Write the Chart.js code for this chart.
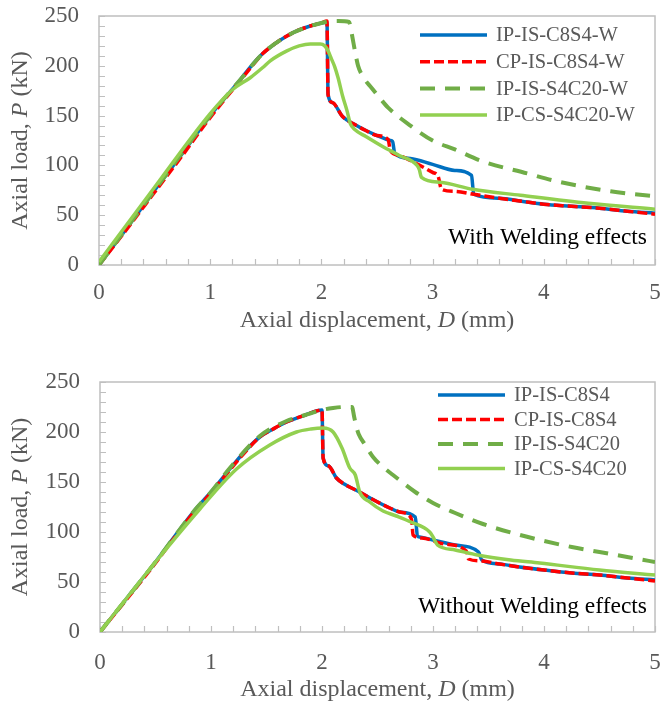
<!DOCTYPE html>
<html>
<head>
<meta charset="utf-8">
<script src="https://cdn.jsdelivr.net/npm/chart.js@4.4.1/dist/chart.umd.min.js"></script>
<style>
html, body { margin: 0; padding: 0; background: #fff; overflow: hidden; }
.box { position: relative; width: 661px; }
#top-box { height: 345px; }
#bottom-box { height: 362px; }
canvas { display: block; }
</style>
</head>
<body>
<div class="box" id="top-box"><canvas id="chart-top"></canvas></div>
<div class="box" id="bottom-box"><canvas id="chart-bottom"></canvas></div>
<script>
// --- data: displacement D (mm) and load P (kN) ---

// With welding effects
let topBlueX = [0, 0.25, 0.5, 0.75, 1.0, 1.15, 1.27, 1.37, 1.47, 1.58, 1.69, 1.8, 1.9, 2.0, 2.05, 2.06, 2.1, 2.19, 2.3, 2.4, 2.5, 2.62, 2.64, 2.66, 2.8, 3.0, 3.2, 3.35, 3.37, 3.6, 3.8, 4.0, 4.25, 4.5, 4.75, 5.0];
let topBlueY = [0, 37, 75, 112, 150, 170, 186, 200, 212, 222, 230, 236, 240, 243, 244, 171, 163, 149, 141, 135, 130, 125, 124, 112, 107, 101, 95, 90, 71, 67, 64, 61, 59, 57, 54, 52];

let topRedX = [0, 0.25, 0.5, 0.75, 1.0, 1.15, 1.27, 1.37, 1.47, 1.58, 1.69, 1.8, 1.9, 2.0, 2.05, 2.06, 2.1, 2.19, 2.3, 2.4, 2.5, 2.6, 2.62, 2.7, 2.85, 3.0, 3.05, 3.08, 3.2, 3.37, 3.6, 3.8, 4.0, 4.25, 4.5, 4.75, 5.0];
let topRedY = [0, 36, 73, 110, 148, 169, 185, 199, 212, 222, 230, 236, 240, 243, 245, 171, 163, 149, 141, 135, 130, 126, 115, 110, 102, 93, 89, 76, 74, 71, 67, 64, 61, 59, 57, 54, 51];

let topGreenX = [0, 0.5, 1.0, 1.27, 1.47, 1.69, 1.85, 2.0, 2.1, 2.15, 2.25, 2.26, 2.28, 2.31, 2.33, 2.38, 2.45, 2.53, 2.6, 2.8, 3.0, 3.2, 3.45, 3.85, 4.12, 4.6, 5.0];
let topGreenY = [0, 75, 150, 186, 212, 230, 238, 243, 245, 245, 244, 240, 228, 210, 200, 188, 178, 167, 158, 140, 125, 116, 104, 92, 84, 74, 69];

let topLimeX = [0, 0.5, 1.0, 1.2, 1.36, 1.47, 1.54, 1.69, 1.8, 1.9, 1.99, 2.03, 2.06, 2.09, 2.12, 2.15, 2.19, 2.23, 2.26, 2.3, 2.4, 2.55, 2.7, 2.86, 2.88, 2.9, 3.07, 3.36, 3.79, 4.4, 5.0];
let topLimeY = [3, 78, 152, 176, 188, 198, 205, 215, 220, 222, 222, 220, 215, 207, 199, 188, 170, 155, 142, 136, 129, 119, 110, 100, 96, 88, 83, 76, 70, 62, 56];

// Without welding effects
let botBlueX = [0, 0.25, 0.5, 0.84, 1.0, 1.17, 1.3, 1.44, 1.56, 1.68, 1.85, 2.0, 2.01, 2.06, 2.13, 2.2, 2.34, 2.45, 2.61, 2.7, 2.84, 2.86, 2.88, 3.0, 3.2, 3.41, 3.44, 3.6, 3.78, 4.0, 4.25, 4.5, 4.75, 5.0];
let botBlueY = [0, 35, 70, 120, 140, 163, 180, 195, 203, 210, 217, 222, 174, 166, 154, 148, 140, 133, 124, 120, 115, 96, 95, 92, 87, 80, 72, 68, 65, 62, 59, 57, 54, 52];

let botRedX = [0, 0.25, 0.5, 0.84, 1.0, 1.17, 1.3, 1.44, 1.56, 1.68, 1.85, 2.0, 2.01, 2.06, 2.13, 2.2, 2.34, 2.45, 2.61, 2.7, 2.79, 2.81, 2.82, 2.9, 3.1, 3.3, 3.32, 3.44, 3.6, 3.78, 4.0, 4.25, 4.5, 4.75, 5.0];
let botRedY = [0, 34, 69, 119, 139, 162, 179, 195, 203, 210, 217, 222, 174, 166, 154, 148, 140, 133, 124, 120, 116, 110, 97, 94, 88, 81, 73, 71, 68, 65, 62, 59, 57, 54, 51];

let botGreenX = [0, 0.5, 0.84, 1.0, 1.17, 1.44, 1.68, 1.85, 2.0, 2.1, 2.2, 2.27, 2.29, 2.31, 2.33, 2.39, 2.46, 2.55, 2.64, 2.84, 3.0, 3.2, 3.45, 3.75, 4.0, 4.25, 4.5, 4.75, 5.0];
let botGreenY = [0, 70, 120, 140, 164, 196, 211, 217, 222, 224, 225, 225, 215, 205, 198, 187, 175, 165, 157, 140, 129, 119, 108, 98, 91, 85, 80, 75, 70];

let botLimeX = [0, 0.5, 0.9, 1.23, 1.53, 1.77, 1.9, 2.01, 2.1, 2.18, 2.25, 2.3, 2.34, 2.43, 2.55, 2.67, 2.8, 2.97, 3.0, 3.04, 3.2, 3.4, 3.7, 3.96, 4.5, 5.0];
let botLimeY = [0, 70, 123, 163, 187, 200, 203, 204, 200, 184, 164, 157, 140, 130, 121, 116, 110, 100, 95, 87, 82, 77, 72, 69, 62, 57];

let topLabels = ['IP-IS-C8S4-W', 'CP-IS-C8S4-W', 'IP-IS-S4C20-W', 'IP-CS-S4C20-W'];
let botLabels = ['IP-IS-C8S4', 'CP-IS-C8S4', 'IP-IS-S4C20', 'IP-CS-S4C20'];

let xTickLabels = [0, 1, 2, 3, 4, 5];
let yTickLabels = [0, 50, 100, 150, 200, 250];

// --- styles ---
const serif = '"Liberation Serif", "Times New Roman", serif';
const grey = '#595959';
const frame = '#BFBFBF';

function series(label, xs, ys, color, width, dash, order) {
    return {
        label: label,
        data: xs.map((x, i) => ({ x: x, y: ys[i] })),
        borderColor: color,
        backgroundColor: color,
        borderWidth: width,
        borderDash: dash,
        pointRadius: 0,
        fill: false,
        cubicInterpolationMode: 'monotone',
        order: order,
    };
}

// draw a line of text where some pieces are italic, centred on cx
function richText(ctx, parts, cx, cy, size) {
    let total = 0;
    parts.forEach(p => {
        ctx.font = (p[1] ? 'italic ' : '') + size + 'px ' + serif;
        total += ctx.measureText(p[0]).width;
    });
    let x = cx - total / 2;
    parts.forEach(p => {
        ctx.font = (p[1] ? 'italic ' : '') + size + 'px ' + serif;
        ctx.fillText(p[0], x, cy);
        x += ctx.measureText(p[0]).width;
    });
}

function makeChart(id, sets, layout) {
    let decor = {
        id: 'decor',
        beforeDatasetsDraw(chart) {
            let a = chart.chartArea;
            let ctx = chart.ctx;
            ctx.save();
            ctx.strokeStyle = frame;
            ctx.lineWidth = 1.5;
            ctx.strokeRect(a.left, a.top, a.right - a.left, a.bottom - a.top);
            // inward tick marks
            ctx.lineWidth = 1.2;
            ctx.beginPath();
            chart.scales.x.ticks.forEach(t => {
                let px = Math.round(chart.scales.x.getPixelForValue(t.value)) + 0.5;
                ctx.moveTo(px, a.bottom);
                ctx.lineTo(px, a.bottom - 6);
            });
            chart.scales.y.ticks.forEach(t => {
                let py = Math.round(chart.scales.y.getPixelForValue(t.value)) + 0.5;
                ctx.moveTo(a.left, py);
                ctx.lineTo(a.left + 6, py);
            });
            ctx.stroke();
            ctx.restore();
        },
        afterDraw(chart) {
            let a = chart.chartArea;
            let ctx = chart.ctx;
            ctx.save();
            ctx.fillStyle = grey;
            ctx.textAlign = 'left';
            ctx.textBaseline = 'middle';
            // axis titles
            richText(ctx, [['Axial displacement, ', false], ['D', true], [' (mm)', false]],
                (a.left + a.right) / 2, layout.xTitleY, 24);
            ctx.translate(layout.yTitleX, (a.top + a.bottom) / 2);
            ctx.rotate(-Math.PI / 2);
            richText(ctx, [['Axial load, ', false], ['P', true], [' (kN)', false]], 0, 0, 24);
            ctx.restore();

            // legend inside the plot
            ctx.save();
            chart.data.datasets.forEach((ds, i) => {
                let y = layout.legendY + i * layout.legendGap;
                ctx.strokeStyle = ds.borderColor;
                ctx.lineWidth = ds.borderWidth;
                ctx.setLineDash(ds.borderDash || []);
                ctx.beginPath();
                ctx.moveTo(layout.legendX, y);
                ctx.lineTo(layout.legendX + 67, y);
                ctx.stroke();
                ctx.setLineDash([]);
                ctx.fillStyle = grey;
                ctx.font = '20.5px ' + serif;
                ctx.textAlign = 'left';
                ctx.textBaseline = 'middle';
                ctx.fillText(ds.label, layout.legendX + 76, y + 1);
            });
            // note in the corner
            ctx.fillStyle = '#000';
            ctx.font = '23.5px ' + serif;
            ctx.textAlign = 'right';
            ctx.fillText(layout.note, 647, layout.noteY);
            ctx.restore();
        },
    };

    return new Chart(document.getElementById(id), {
        type: 'line',
        data: { datasets: sets },
        options: {
            responsive: true,
            maintainAspectRatio: false,
            animation: false,
            layout: { padding: { left: 0, right: 6, top: layout.top, bottom: 0 } },
            plugins: { legend: { display: false }, tooltip: { enabled: false } },
            scales: {
                x: {
                    type: 'linear',
                    min: 0,
                    max: 5,
                    ticks: {
                        stepSize: 0.2,
                        autoSkip: false,
                        maxRotation: 0,
                        padding: layout.xPad,
                        color: grey,
                        font: { family: serif, size: 23 },
                        callback: v => {
                            let r = Math.round(v);
                            return Math.abs(v - r) < 1e-6 && xTickLabels.includes(r) ? String(r) : '';
                        },
                    },
                    grid: { drawOnChartArea: false, drawTicks: false, tickLength: 0 },
                    border: { display: false },
                    afterFit: s => {
                        s.height = layout.xHeight;
                        s.paddingLeft = 0;
                        s.paddingRight = 0;
                    },
                },
                y: {
                    min: 0,
                    max: 250,
                    ticks: {
                        stepSize: 10,
                        autoSkip: false,
                        padding: 20,
                        color: grey,
                        font: { family: serif, size: 23 },
                        callback: v => (yTickLabels.includes(v) ? String(v) : ''),
                    },
                    grid: { drawOnChartArea: false, drawTicks: false, tickLength: 0 },
                    border: { display: false },
                    afterFit: s => {
                        s.width = layout.yWidth;
                        s.paddingTop = 0;
                        s.paddingBottom = 0;
                    },
                },
            },
        },
        plugins: [decor],
    });
}

makeChart('chart-top', [
    series(topLabels[0], topBlueX, topBlueY, '#0070C0', 3.5, [], 4),
    series(topLabels[1], topRedX, topRedY, '#FF0000', 3.5, [10, 4], 3),
    series(topLabels[2], topGreenX, topGreenY, '#70AD47', 4, [15, 10], 2),
    series(topLabels[3], topLimeX, topLimeY, '#92D050', 3.5, [], 1),
], {
    top: 16, xHeight: 80, yWidth: 99, xPad: 14,
    xTitleY: 321, yTitleX: 21,
    legendX: 420, legendY: 35, legendGap: 26.7,
    note: 'With Welding effects', noteY: 238,
});

makeChart('chart-bottom', [
    series(botLabels[0], botBlueX, botBlueY, '#0070C0', 3.5, [], 4),
    series(botLabels[1], botRedX, botRedY, '#FF0000', 3.5, [10, 4], 3),
    series(botLabels[2], botGreenX, botGreenY, '#70AD47', 4, [15, 10], 2),
    series(botLabels[3], botLimeX, botLimeY, '#92D050', 3.5, [], 1),
], {
    top: 37, xHeight: 75, yWidth: 100, xPad: 17,
    xTitleY: 345, yTitleX: 21,
    legendX: 438, legendY: 50, legendGap: 24.5,
    note: 'Without Welding effects', noteY: 262,
});
</script>
</body>
</html>
